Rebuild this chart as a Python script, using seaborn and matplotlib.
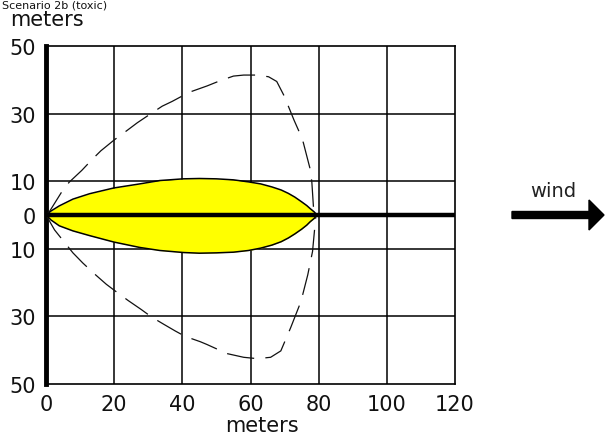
import numpy as np
import pandas as pd
import matplotlib
matplotlib.use("Agg")
import matplotlib.pyplot as plt
import seaborn as sns

# plume (yellow) outline: x, upper and lower edge
plume_x = [0, 1.5, 3.9, 7.9, 12.8, 19.9, 27.5, 33.4, 40.3, 45, 50, 55, 59.4, 63, 66.3, 69, 71.1, 73, 75, 76.5, 77.5, 78.7, 79.5]
plume_top = [0, 1.2, 2.7, 4.7, 6.3, 8.0, 9.2, 10.2, 10.7, 10.8, 10.7, 10.4, 9.8, 9.2, 8.3, 7.4, 6.4, 5.3, 3.9, 2.8, 1.9, 0.9, 0]
plume_bot = [0, -1.5, -3.2, -4.7, -6.1, -8.0, -9.6, -10.5, -11.1, -11.3, -11.2, -11.0, -10.5, -9.8, -8.9, -7.9, -6.8, -5.6, -4.2, -3.0, -2.0, -1.0, 0]

# outer dashed contour (upper then lower)
outer_top_x = [0, 1, 4.9, 6.8, 10.5, 13.6, 16.1, 20, 23.9, 26.8, 30.5, 34.1, 37, 42, 47.3, 51, 55, 58, 62, 65.3, 67.7, 70.2, 71.1, 72.8, 74.6, 75.5, 77.5, 78, 78.5, 79.2]
outer_top_y = [0, 1, 7.3, 9.7, 13.2, 16.5, 19, 22.2, 25.1, 27.3, 29.8, 32.2, 33.6, 36.3, 38.2, 39.7, 41.1, 41.4, 41.4, 40.9, 39.5, 34.6, 32.2, 28.0, 23.9, 21.4, 13.6, 9.7, 1.9, 0]
outer_bot_x = [0, 2.5, 5.2, 7.9, 10.8, 14.2, 17.7, 20.2, 24.1, 28, 31, 34.5, 37.9, 40.8, 45.3, 47.2, 53.1, 58, 62, 65.9, 68.9, 71.8, 74.8, 76.8, 78.2, 79.2]
outer_bot_y = [0, -4.4, -7.8, -11.2, -14.2, -17.4, -20.5, -22.4, -25.3, -28, -30.2, -32.3, -34.3, -35.9, -37.5, -38.3, -41, -42.1, -42.5, -42.1, -40.2, -33.3, -25.6, -17.7, -10.8, 0]

x_ticks = [0, 20, 40, 60, 80, 100, 120]
y_ticks = [50, 30, 10, 0, -10, -30, -50]
y_tick_labels = ["50", "30", "10", "0", "10", "30", "50"]
wind_axis_x = [0, 120]
wind_axis_y = [0, 0]

sns.set_theme(style="white")
plt.rcParams['font.family'] = ['DejaVu Sans']

fig = plt.figure(figsize=(6.05, 4.39), dpi=100)
ax = fig.add_axes([46/605, 1-385/439, 409/605, 338/439])

# grid lines
for gx in x_ticks[1:-1]:
    ax.axvline(gx, color='black', lw=1.1, zorder=1)
for gy in [30, 10, -10, -30]:
    ax.axhline(gy, color='black', lw=1.1, zorder=1)

# plume
ax.fill_between(plume_x, plume_bot, plume_top, color='#ffff00', zorder=2, lw=0)
df_top = pd.DataFrame({"x": plume_x, "y": plume_top})
df_bot = pd.DataFrame({"x": plume_x, "y": plume_bot})
sns.lineplot(data=df_top, x="x", y="y", ax=ax, color='black', lw=1.1, sort=False, estimator=None, zorder=3)
sns.lineplot(data=df_bot, x="x", y="y", ax=ax, color='black', lw=1.1, sort=False, estimator=None, zorder=3)

# outer dashed contour
df_ot = pd.DataFrame({"x": outer_top_x, "y": outer_top_y})
df_ob = pd.DataFrame({"x": outer_bot_x, "y": outer_bot_y})
for d in (df_ot, df_ob):
    l = sns.lineplot(data=d, x="x", y="y", ax=ax, color='#111111', lw=0.9, sort=False, estimator=None, zorder=3)
    l.lines[-1].set_dashes([22, 9])

# thick centre line (wind axis)
ax.plot(wind_axis_x, wind_axis_y, color='black', lw=3.2, zorder=4, solid_capstyle='butt')

ax.set_xlim(0, 120)
ax.set_ylim(-50, 50)
ax.set_xticks(x_ticks)
ax.set_yticks(y_ticks)
ax.set_yticklabels(y_tick_labels)
ax.tick_params(axis='both', length=0, labelsize=15, colors='#111111')
ax.tick_params(axis='x', pad=7)
ax.tick_params(axis='y', pad=7)
ax.set_xlabel("meters", fontsize=15, color='#111111')
ax.xaxis.set_label_coords((262-46)/409, -(416-385)/338)
ax.set_ylabel("")
for s in ax.spines.values():
    s.set_color('black')
    s.set_linewidth(1.2)
ax.spines['left'].set_linewidth(3.5)

fig.text(10/605, 1-20/439, "meters", fontsize=15, ha='left', va='center', color='#111111')
fig.text(2/605, 1-8/439, "Scenario 2b (toxic)", fontsize=8, ha='left', va='baseline', color='#111111')

# wind arrow
fig.text(553/605, 1-192/439, "wind", fontsize=14, ha='center', va='center', color='#222222')
fig.patches.append(matplotlib.patches.FancyArrow(
    512/605, 1-216/439, 92/605, 0, width=7/439, head_width=30/439, head_length=15/605,
    length_includes_head=True, color='black', transform=fig.transFigure, figure=fig))

fig.savefig("out.png", dpi=100)
